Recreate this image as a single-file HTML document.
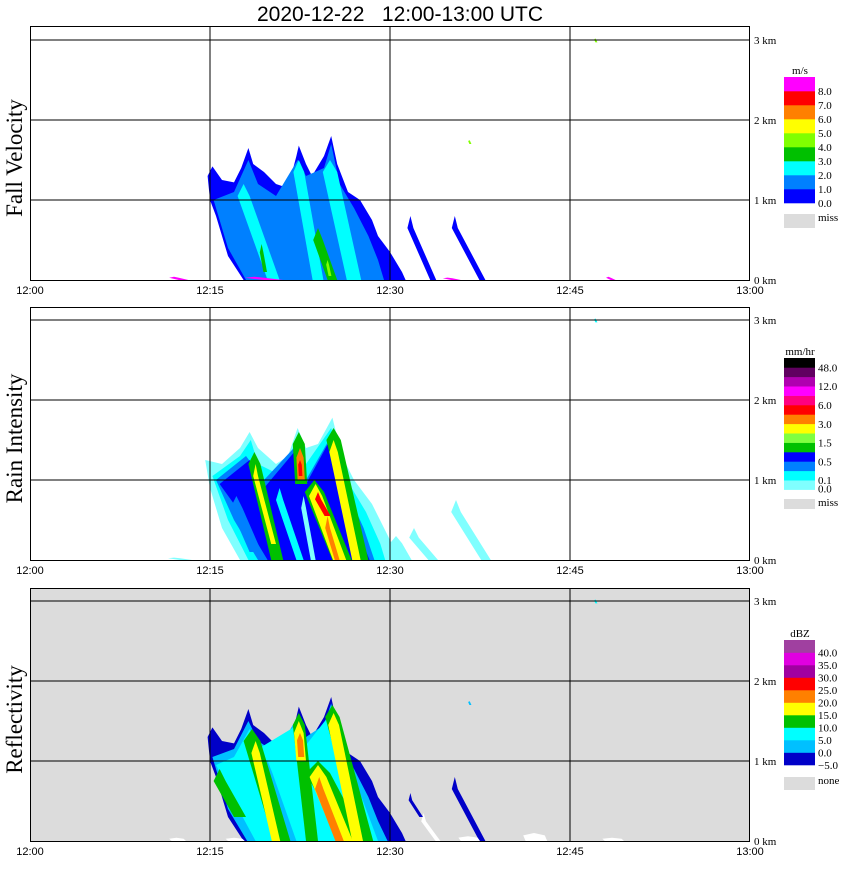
<!DOCTYPE html>
<html><head><meta charset="utf-8"><style>
body{margin:0;background:#fff;width:850px;height:868px;overflow:hidden}
svg text{font-family:"Liberation Serif",serif;font-size:12px;fill:#000}
</style></head><body>
<svg id="chart" width="850" height="868" xmlns="http://www.w3.org/2000/svg">
<text x="400" y="21" text-anchor="middle" style="font-family:'Liberation Sans',sans-serif;font-size:21px;white-space:pre" xml:space="preserve">2020-12-22   12:00-13:00 UTC</text>
</svg>
<script>
// ===== data =====
const timeTicks = [0, 15, 30, 45, 60];
const timeLabels = ["12:00", "12:15", "12:30", "12:45", "13:00"];
const heightTicks = [0, 1, 2, 3];
const heightLabels = ["0 km", "1 km", "2 km", "3 km"];
const panelTitles = ["Fall Velocity", "Rain Intensity", "Reflectivity"];

const fvColors = ["#0000ff","#0080ff","#00ffff","#00c000","#80ff00","#ffff00","#ff8000","#ff0000","#ff00ff"];
const fvLegendLabels = ["8.0","7.0","6.0","5.0","4.0","3.0","2.0","1.0","0.0"];
const riColors = ["#80ffff","#00ffff","#0080ff","#0000ff","#00c000","#80ff40","#ffff00","#ff8000","#ff0000","#ff0080","#ff00ff","#b000b0","#600060","#000000"];
const riLegendLabels = ["48.0","12.0","6.0","3.0","1.5","0.5","0.1","0.0"];
const dzColors = ["#ffffff","#0000c8","#00c0ff","#00ffff","#00c000","#ffff00","#ff8000","#ff0000","#a000a0","#e000e0","#a040a0"];
const dzLegendLabels = ["40.0","35.0","30.0","25.0","20.0","15.0","10.0","5.0","0.0","\u22125.0"];

const fvAreas = [
 [0, [[14.8,1.3],[15.2,1.42],[16.0,1.25],[17.0,1.22],[17.6,1.4],[18.2,1.65],[18.6,1.45],[19.5,1.35],[20.5,1.2],[21.5,1.15],[22.2,1.55],[22.4,1.68],[23.0,1.45],[23.5,1.3],[24.5,1.55],[25.1,1.8],[25.6,1.45],[26.5,1.1],[27.5,1.0],[28.5,0.75],[29.0,0.55],[30.0,0.35],[31.0,0.1],[31.3,0],[17.8,0],[16.5,0.3],[15.5,0.8],[15.0,1.0]]],
 [1, [[15.3,1.0],[17,1.1],[18.2,1.5],[19,1.2],[20.5,1.05],[22.3,1.5],[23,1.3],[24.5,1.4],[25.1,1.7],[25.8,1.2],[27,0.9],[28.2,0.55],[29,0.25],[29.5,0],[18,0],[16.5,0.4]]]
];
const fvStreaks = [
 [2,17.8,1.2,20.3,0,0.5],[2,22.4,1.5,24.0,0,0.45],[2,25.0,1.5,27.0,0,0.6],
 [3,24.0,0.65,25.2,0,0.4],[3,19.3,0.45,19.6,0.1,0.15],[4,24.8,0.25,25.0,0.05,0.12],
 [0,31.7,0.8,33.6,0,0.25],[0,35.4,0.8,37.7,0,0.25],[0,29.3,0.45,30.3,0,0.4],
 [8,12.0,0.04,12.8,0,0.4],[8,18.7,0.04,20.3,0,0.8],[8,34.8,0.03,35.5,0,0.4],[8,48.2,0.04,48.6,0,0.2],
 [4,47.1,3.02,47.2,2.97,0.08],[4,36.6,1.75,36.7,1.7,0.08]
];
const riAreas = [
 [0, [[14.6,1.25],[16,1.2],[17.5,1.4],[18.3,1.6],[19,1.4],[20.5,1.2],[21.5,1.3],[22.3,1.65],[23,1.4],[24,1.45],[25.2,1.78],[26,1.3],[27,1.0],[28.5,0.7],[29.5,0.4],[30.5,0.1],[31,0],[17.5,0],[16,0.4],[15,0.9]]],
 [1, [[15.2,1.05],[17.5,1.3],[18.4,1.5],[19,1.2],[21,1.05],[22.3,1.55],[23,1.2],[25.1,1.65],[26,1.1],[28,0.6],[29.2,0.2],[29.6,0],[18.2,0],[16.5,0.5]]],
 [2, [[15.5,1.0],[18,1.3],[19.5,1.0],[22.3,1.45],[23,1.0],[25.1,1.55],[26,1.0],[27.8,0.4],[28.7,0],[19,0],[17,0.5]]],
 [3, [[15.8,0.95],[18.3,1.25],[19.5,0.9],[22.3,1.4],[23,0.95],[25,1.5],[25.8,0.9],[27.5,0.3],[28.3,0],[19.8,0],[17,0.7]]]
];
const riStreaks = [
 [1,20.8,0.9,22.5,0,0.3],[0,22.8,0.8,23.6,0,0.2],[2,17.2,0.8,18.8,0.1,0.5],
 [4,18.7,1.35,20.6,0,0.5],[6,18.8,1.2,20.3,0.2,0.2],
 [4,22.4,1.6,22.6,0.95,0.5],[7,22.5,1.4,22.6,1.0,0.3],[8,22.5,1.25,22.55,1.05,0.15],
 [4,23.7,1.0,26.0,0,0.8],[6,23.8,0.95,25.8,0,0.55],[8,24.0,0.85,24.8,0.55,0.25],[7,24.8,0.55,25.6,0,0.2],
 [4,25.3,1.65,27.6,0,0.6],[6,25.3,1.5,27.2,0,0.35],
 [0,32.0,0.4,33.6,0,0.4],[0,35.5,0.75,38.0,0,0.4],[0,30.5,0.3,31.3,0,0.5],[0,12.0,0.03,13.0,0,0.5],
 [1,47.1,3.02,47.2,2.97,0.08]
];
const dzAreas = [
 [1, [[14.8,1.3],[15.2,1.42],[16.0,1.25],[17.0,1.22],[17.6,1.4],[18.2,1.65],[18.6,1.45],[19.5,1.35],[20.5,1.2],[21.5,1.15],[22.2,1.55],[22.4,1.68],[23.0,1.45],[23.5,1.3],[24.5,1.55],[25.1,1.8],[25.6,1.45],[26.5,1.1],[27.5,1.0],[28.5,0.75],[29.0,0.55],[30.0,0.35],[31.0,0.1],[31.3,0],[17.8,0],[16.5,0.3],[15.5,0.8],[15.0,1.0]]],
 [2, [[15.2,1.05],[17,1.15],[18.2,1.5],[19,1.25],[20.5,1.1],[22.3,1.55],[23,1.3],[24.5,1.45],[25.1,1.72],[25.8,1.2],[27,0.9],[28.2,0.55],[29,0.25],[29.8,0],[18.1,0],[16.5,0.4]]],
 [3, [[15.5,0.95],[17,1.05],[18.3,1.4],[19,1.15],[22.3,1.45],[23,1.2],[25.1,1.6],[25.8,1.1],[27.5,0.6],[28.5,0.2],[29,0],[18.8,0],[17,0.5]]]
];
const dzStreaks = [
 [2,19.8,1.0,21.8,0,0.4],
 [4,15.8,0.9,17.5,0.3,0.5],[4,18.5,1.4,21,0,0.7],[4,22.4,1.6,23.5,0,0.5],[4,24,1.0,27,0,1.0],[4,25.2,1.7,28,0,0.6],
 [5,18.8,1.25,20.5,0,0.35],[5,22.4,1.5,22.6,1.0,0.4],[5,24,0.95,26.2,0,0.7],[5,25.3,1.6,27.3,0,0.45],
 [6,22.5,1.35,22.6,1.05,0.25],[6,24.1,0.8,25.8,0,0.35],
 [1,35.4,0.8,37.7,0,0.25],[0,32.8,0.35,34.0,0,0.2],[1,31.7,0.6,32.6,0.3,0.15],
 [0,12.2,0.04,12.4,0,0.6],[0,17.0,0.04,17.2,0,0.7],[0,36.5,0.06,36.7,0,0.8],[0,42.0,0.1,42.2,0,0.9],[0,48.5,0.04,48.7,0,0.8],
 [2,36.6,1.75,36.7,1.7,0.08],[3,47.1,3.02,47.2,2.97,0.08]
];

// ===== rendering =====
const NS = "http://www.w3.org/2000/svg";
const svg = document.getElementById("chart");
const X0 = 30, X1 = 750, PXMIN = 12, PXKM = 80;
const panels = [
 {key:"fall-velocity", top:26, base:280, bg:"#ffffff", colors:fvColors, areas:fvAreas, streaks:fvStreaks,
  unit:"m/s", legTop:77, bandH:14, labels:fvLegendLabels, labelStart:1, labelStep:1, miss:"miss", missTop:214, missH:14},
 {key:"rain-intensity", top:307, base:560, bg:"#ffffff", colors:riColors, areas:riAreas, streaks:riStreaks,
  unit:"mm/hr", legTop:358, bandH:9.4, labels:riLegendLabels, labelStart:1, labelStep:2, miss:"miss", missTop:499, missH:10},
 {key:"reflectivity", top:588, base:841, bg:"#dcdcdc", colors:dzColors, areas:dzAreas, streaks:dzStreaks,
  unit:"dBZ", legTop:640, bandH:12.5, labels:dzLegendLabels, labelStart:1, labelStep:1, miss:"none", missTop:777, missH:13}
];
function mk(tag, attrs, parent){const e=document.createElementNS(NS,tag);for(const k in attrs)e.setAttribute(k,attrs[k]);(parent||svg).appendChild(e);return e;}

panels.forEach((p, pi) => {
  const xs = t => X0 + t * PXMIN;
  const ys = h => p.base - h * PXKM;
  const g = mk("g", {});
  
  
  const clip = mk("clipPath", {id:"clip"+pi}, g);
  mk("rect", {x:X0, y:p.top, width:X1-X0, height:p.base-p.top}, clip);
  const bg = mk("rect", {x:X0, y:p.top, width:X1-X0, height:p.base-p.top, fill:p.bg}, g);
  
  
  const dg = mk("g", {"clip-path":"url(#clip"+pi+")"}, g);
  p.areas.forEach(a => {
    const pts = a[1].map(q => xs(q[0]).toFixed(1) + "," + ys(q[1]).toFixed(1)).join(" ");
    const el = mk("polygon", {points:pts, fill:p.colors[a[0]]}, dg);
    
    
  });
  p.streaks.forEach(s => {
    const [lv, tt, ht, tb, hb, w] = s;
    const drop = Math.min(0.15, (ht - hb) * 0.3);
    const pts = [[tt,ht],[tt+w,ht-drop],[tb+w,hb],[tb-w,hb],[tt-w,ht-drop]]
      .map(q => xs(q[0]).toFixed(1) + "," + ys(q[1]).toFixed(1)).join(" ");
    const el = mk("polygon", {points:pts, fill:p.colors[lv]}, dg);
    
    
  });
  timeTicks.forEach((t, i) => {
    if (t > 0 && t < 60) {
      const l = mk("line", {x1:xs(t), x2:xs(t), y1:p.top, y2:p.base, stroke:"#000", "stroke-width":1}, g);
      
      
    }
    const tx = mk("text", {x:xs(t), y:p.base + 14, "text-anchor":"middle", style:"font-family:'Liberation Sans',sans-serif;font-size:11px"}, g);
    tx.textContent = timeLabels[i];
    
    
  });
  heightTicks.forEach((h, i) => {
    if (h > 0) {
      const l = mk("line", {x1:X0, x2:X1, y1:ys(h), y2:ys(h), stroke:"#000", "stroke-width":1}, g);
      
      
    }
    const tx = mk("text", {x:754, y:ys(h) + 4, style:"font-size:11px"}, g);
    tx.textContent = heightLabels[i];
    
    
  });
  const border = mk("rect", {x:X0+0.5, y:p.top+0.5, width:X1-X0-1, height:p.base-p.top, fill:"none", stroke:"#000", "stroke-width":1}, g);
  
  
  const cy = (p.top + p.base) / 2 + 5;
  const yt = mk("text", {x:0, y:0, transform:"translate(22," + cy + ") rotate(-90)", "text-anchor":"middle", style:"font-size:23px"}, g);
  yt.textContent = panelTitles[pi];
  
  
  const lg = mk("g", {}, g);
  
  
  const ut = mk("text", {x:800, y:p.legTop - 3, "text-anchor":"middle", style:"font-size:11px"}, lg);
  ut.textContent = p.unit;
  
  
  const n = p.colors.length - (p.key === "reflectivity" ? 1 : 0);
  const cols = p.key === "reflectivity" ? p.colors.slice(1) : p.colors;
  for (let i = 0; i < n; i++) {
    const r = mk("rect", {x:784, y:(p.legTop + (n-1-i) * p.bandH).toFixed(1), width:31, height:(p.bandH + 0.3).toFixed(1), fill:cols[i]}, lg);
    
    
  }
  p.labels.forEach((lb, i) => {
    let yy = p.legTop + (p.labelStart + i * p.labelStep) * p.bandH + 4;
    if (p.key === "rain-intensity" && i === p.labels.length - 1) yy = p.legTop + n * p.bandH + 3;
    const tx = mk("text", {x:818, y:yy.toFixed(1), style:"font-size:11px"}, lg);
    tx.textContent = lb;
    
    
  });
  const mr = mk("rect", {x:784, y:p.missTop, width:31, height:p.missH, fill:"#dcdcdc"}, lg);
  
  
  const mt = mk("text", {x:818, y:p.missTop + 7, style:"font-size:11px"}, lg);
  mt.textContent = p.miss;
  
  
});
</script>
</body></html>
